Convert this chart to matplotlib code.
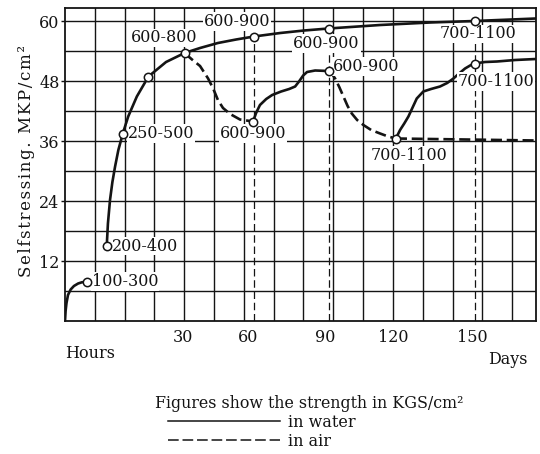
import numpy as np
import matplotlib
matplotlib.use("Agg")
import matplotlib.pyplot as plt
from matplotlib.lines import Line2D

plt.rcParams['font.family'] = ['DejaVu Serif']

# ---- data (x in grid-cell units of the chart's broken hours/days axis, y in MKP/cm2) ----
hours_x = [0.0, 0.02, 0.05, 0.10, 0.19, 0.30, 0.44, 0.57, 0.73]
hours_y = [0.0, 2.0, 3.6, 5.2, 6.3, 7.0, 7.5, 7.75, 7.85]

water_x = [1.40, 1.44, 1.51, 1.59, 1.68, 1.79, 1.94, 2.12, 2.41, 2.80, 3.39, 4.01,
           4.53, 5.13, 5.74, 6.34, 7.22, 8.02, 8.84, 10.57, 12.25, 13.74, 15.80]
water_y = [15.0, 19.5, 24.2, 27.8, 30.9, 34.2, 37.5, 40.9, 44.9, 48.9, 51.8, 53.6,
           54.6, 55.6, 56.3, 56.9, 57.6, 58.1, 58.5, 59.2, 59.7, 60.0, 60.5]

air1_x = [4.01, 4.26, 4.53, 4.80, 4.97, 5.13, 5.30, 5.54, 5.87, 6.31]
air1_y = [53.6, 52.3, 51.0, 48.5, 46.5, 44.2, 42.6, 41.4, 40.3, 39.9]

resat1_x = [6.31, 6.41, 6.54, 6.75, 6.95, 7.25, 7.52, 7.72, 7.85, 7.99, 8.12, 8.39, 8.84]
resat1_y = [39.9, 41.6, 43.2, 44.4, 45.2, 45.9, 46.4, 46.9, 47.9, 49.1, 49.8, 50.1, 50.0]

air2_x = [8.84, 8.96, 9.06, 9.20, 9.34, 9.48, 9.62, 9.80, 10.01, 10.27, 10.57, 10.84, 11.10]
air2_y = [50.0, 49.4, 48.5, 46.8, 44.9, 43.0, 41.5, 40.2, 39.2, 38.2, 37.5, 36.9, 36.5]

air3_x = [11.10, 15.80]
air3_y = [36.5, 36.1]

resat2_x = [11.10, 11.24, 11.38, 11.52, 11.66, 11.80, 12.02, 12.28, 12.58, 12.82,
            13.03, 13.22, 13.42, 13.59, 13.74, 14.09, 14.49, 15.10, 15.80]
resat2_y = [36.5, 38.2, 39.5, 40.9, 42.7, 44.5, 45.9, 46.4, 46.9, 47.6,
            48.5, 49.5, 50.5, 51.1, 51.5, 51.8, 51.9, 52.2, 52.4]

# marked points and their strength labels
point_x = [0.73, 1.40, 1.94, 2.80, 4.01, 6.34, 6.31, 8.84, 8.84, 11.10, 13.74, 13.74]
point_y = [7.85, 15.0, 37.5, 48.9, 53.6, 56.9, 39.9, 58.5, 50.0, 36.5, 60.0, 51.5]
point_labels = ["100-300", "200-400", "250-500", "", "600-800", "600-900", "600-900",
                "600-900", "600-900", "700-1100", "700-1100", "700-1100"]

# vertical guide lines (x of the upper points at 60, 90, 150 days)
guide_x = [6.34, 8.84, 13.74]
guide_top = [56.9, 58.5, 60.0]

day_ticks = ["30", "60", "90", "120", "150"]
day_tick_pos = [3.96, 6.15, 8.72, 11.02, 13.65]
y_ticks = [12, 24, 36, 48, 60]
grid_x = list(range(1, 16))
grid_y = list(range(6, 61, 6))

# ---- figure ----
W, H = 540, 454
fig = plt.figure(figsize=(W / 100, H / 100), dpi=100)
ax = fig.add_axes([65 / W, 1 - 321 / H, (536 - 65) / W, (321 - 8) / H])
ax.set_xlim(0, 15.8)
ax.set_ylim(0, 62.6)

ink = '#141414'
for gx in grid_x:
    ax.axvline(gx, color=ink, lw=1.0, zorder=1)
for gy in grid_y:
    ax.axhline(gy, color=ink, lw=1.0, zorder=1)
for s in ax.spines.values():
    s.set_linewidth(1.3)
    s.set_color(ink)

ax.set_xticks(day_tick_pos)
ax.set_xticklabels(day_ticks, fontsize=11.5)
ax.set_yticks(y_ticks)
ax.set_yticklabels([str(v) for v in y_ticks], fontsize=11.5)
ax.tick_params(axis='x', length=0, pad=6, colors=ink)
ax.tick_params(axis='y', length=3, width=1, pad=1, colors=ink)

# guide lines
for gx, gt in zip(guide_x, guide_top):
    ax.plot([gx, gx], [0, gt], color=ink, lw=0.9, ls=(0, (6, 3)), zorder=2)

solid_kw = dict(color=ink, lw=1.9, zorder=3, solid_capstyle='round')
dash_kw = dict(color=ink, lw=1.9, zorder=3, ls=(0, (4.2, 1.8)))
ax.plot(hours_x, hours_y, **solid_kw)
ax.plot(water_x, water_y, **solid_kw)
ax.plot(resat1_x, resat1_y, **solid_kw)
ax.plot(resat2_x, resat2_y, **solid_kw)
ax.plot(air1_x, air1_y, **dash_kw)
ax.plot(air2_x, air2_y, **dash_kw)
ax.plot(air3_x, air3_y, **dash_kw)

ax.plot(point_x, point_y, ls='none', marker='o', ms=6, mfc='white', mec=ink, mew=1.1, zorder=5)

# label placements (pixel offsets from the point, alignment)
offsets = [(5, 0, 'left'), (5.5, 0, 'left'), (5, 0, 'left'), (0, 0, 'left'),
           (-20.5, 15, 'center'), (-17, 15, 'center'), (0, -12, 'center'),
           (-2, -15, 'center'), (4.5, 4.5, 'left'), (13, -16.5, 'center'),
           (3, -13, 'center'), (21.5, -18, 'center')]
for px, py, lab, (dx, dy, ha) in zip(point_x, point_y, point_labels, offsets):
    if not lab:
        continue
    ax.annotate(lab, xy=(px, py), xytext=(dx, dy), textcoords='offset pixels',
                ha=ha, va='center', fontsize=11.5, color=ink, zorder=4,
                bbox=dict(fc='white', ec='none', pad=0.6))

# axis texts
ylab = "\u200a".join("Selfstressing. MKP/cm²")
fig.text(27 / W, 1 - 161.5 / H, ylab, rotation=90,
         ha='center', va='center', fontsize=12, color=ink)
fig.text(65 / W, 1 - 353 / H, "Hours", ha='left', va='center', fontsize=11.5, color=ink)
fig.text(488 / W, 1 - 360 / H, "Days", ha='left', va='center', fontsize=11.5, color=ink)

# legend block
fig.text(155 / W, 1 - 404 / H, "Figures show the strength in KGS/cm²",
         ha='left', va='center', fontsize=11.4, color=ink)
handles = [Line2D([], [], color=ink, lw=1.1),
           Line2D([], [], color=ink, lw=1.1, ls=(0, (7, 2.5)))]
fig.legend(handles, ["in water", "in air"], loc='upper left',
           bbox_to_anchor=(168 / W, 1 - 414 / H), frameon=False, fontsize=11.5,
           handlelength=7.0, handletextpad=0.5, labelspacing=0.1, borderpad=0,
           borderaxespad=0, labelcolor=ink)

fig.savefig("out.png", dpi=100)
